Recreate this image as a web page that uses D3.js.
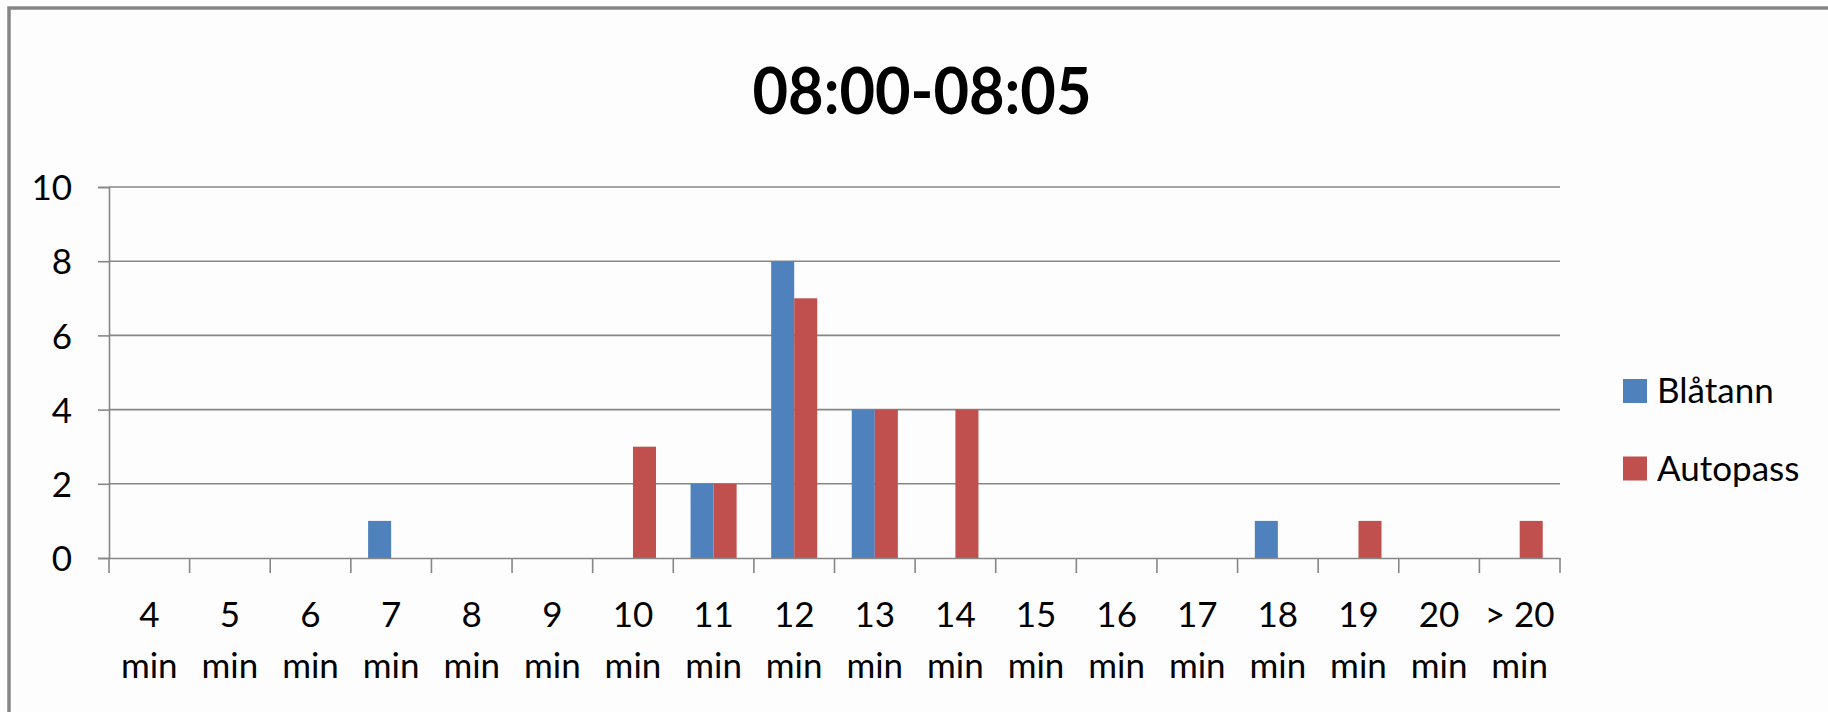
<!DOCTYPE html>
<html>
<head>
<meta charset="utf-8">
<script src="https://cdn.jsdelivr.net/npm/d3@7"></script>
<style>
  html, body { margin: 0; padding: 0; background: #fdfdfd; }
  svg { display: block; }
  text { font-family: Lato, "Open Sans", sans-serif; fill: #000; }
</style>
</head>
<body>
<svg id="chart" width="1828" height="712"></svg>
<script>
// Travel-time distribution, 08:00-08:05
const title = "08:00-08:05";
const categories = ["4", "5", "6", "7", "8", "9", "10", "11", "12", "13", "14", "15", "16", "17", "18", "19", "20", "> 20"];
const unit = "min";
const seriesNames = ["Blåtann", "Autopass"];
const blatann  = [0, 0, 0, 1, 0, 0, 0, 2, 8, 4, 0, 0, 0, 0, 1, 0, 0, 0];
const autopass = [0, 0, 0, 0, 0, 0, 3, 2, 7, 4, 4, 0, 0, 0, 0, 1, 0, 1];
const yTicks = [0, 2, 4, 6, 8, 10];
const colors = ["#4f81bd", "#c0504d"];

const svg = d3.select("#chart");
const W = 1828, H = 712;
const plot = { left: 109, right: 1560, top: 187, bottom: 558 };

// chart frame (runs off the right and bottom edges)
svg.append("rect")
  .attr("x", 9).attr("y", 8)
  .attr("width", W + 20).attr("height", H + 20)
  .attr("fill", "#fdfdfd")
  .attr("stroke", "#868686")
  .attr("stroke-width", 3.5);

// title
svg.append("text")
  .attr("x", 922).attr("y", 114)
  .attr("text-anchor", "middle")
  .attr("font-weight", "bold")
  .attr("font-size", 65)
  .attr("textLength", 339)
  .attr("lengthAdjust", "spacingAndGlyphs")
  .text(title);

const x0 = d3.scaleBand().domain(categories).range([plot.left, plot.right]).padding(0);
const x1 = d3.scaleBand().domain(seriesNames).range([0, x0.bandwidth()])
  .paddingInner(0).paddingOuter(0.75);
const y = d3.scaleLinear().domain([0, 10]).range([plot.bottom, plot.top]);

// horizontal gridlines
svg.append("g").selectAll("line")
  .data(yTicks.filter(d => d > 0))
  .join("line")
  .attr("x1", plot.left).attr("x2", plot.right)
  .attr("y1", d => y(d)).attr("y2", d => y(d))
  .attr("stroke", "#878787")
  .attr("stroke-width", 1.6);

// bars
const data = categories.map((c, i) => ({ cat: c, values: [blatann[i], autopass[i]] }));
const groups = svg.append("g").selectAll("g")
  .data(data)
  .join("g")
  .attr("transform", d => `translate(${x0(d.cat)},0)`);
groups.selectAll("rect")
  .data(d => d.values.map((v, k) => ({ key: seriesNames[k], v, k })))
  .join("rect")
  .attr("x", d => x1(d.key))
  .attr("width", x1.bandwidth())
  .attr("y", d => y(d.v))
  .attr("height", d => y(0) - y(d.v))
  .attr("fill", d => colors[d.k]);

// y axis
const yAxis = svg.append("g")
  .attr("transform", `translate(${plot.left},0)`)
  .call(d3.axisLeft(y).tickValues(yTicks).tickSize(11).tickPadding(26).tickFormat(d3.format("d")));
yAxis.select(".domain").attr("stroke", "#878787").attr("stroke-width", 1.6);
yAxis.selectAll(".tick line").attr("stroke", "#878787").attr("stroke-width", 1.6);
yAxis.selectAll(".tick text")
  .attr("font-family", "Lato, 'Open Sans', sans-serif")
  .attr("font-size", 35)
  .attr("fill", "#000")
  .attr("dy", "0.36em");

// x axis baseline and tick marks at category boundaries
const xAxis = svg.append("g")
  .attr("transform", `translate(0,${plot.bottom})`)
  .call(d3.axisBottom(x0).tickSize(0).tickFormat(""));
xAxis.select(".domain").attr("stroke", "#878787").attr("stroke-width", 1.6);
xAxis.selectAll(".tick").remove();

const boundaries = categories.map(c => x0(c)).concat([x0(categories[categories.length - 1]) + x0.bandwidth()]);
svg.append("g").selectAll("line")
  .data(boundaries)
  .join("line")
  .attr("x1", d => d).attr("x2", d => d)
  .attr("y1", plot.bottom).attr("y2", plot.bottom + 15)
  .attr("stroke", "#878787")
  .attr("stroke-width", 1.6);

// two-line category labels
const labels = svg.append("g").selectAll("text")
  .data(categories)
  .join("text")
  .attr("text-anchor", "middle")
  .attr("font-size", 35);
labels.append("tspan")
  .attr("x", d => x0(d) + x0.bandwidth() / 2)
  .attr("y", 627)
  .text(d => d);
labels.append("tspan")
  .attr("x", d => x0(d) + x0.bandwidth() / 2)
  .attr("y", 678)
  .text(unit);

// legend
const legend = svg.append("g").selectAll("g")
  .data(seriesNames)
  .join("g")
  .attr("transform", (d, i) => `translate(1623,${379 + i * 77.5})`);
legend.append("rect")
  .attr("width", 24).attr("height", 24)
  .attr("fill", (d, i) => colors[i]);
legend.append("text")
  .attr("x", 34).attr("y", 24)
  .attr("font-size", 35)
  .text(d => d);
</script>
</body>
</html>
